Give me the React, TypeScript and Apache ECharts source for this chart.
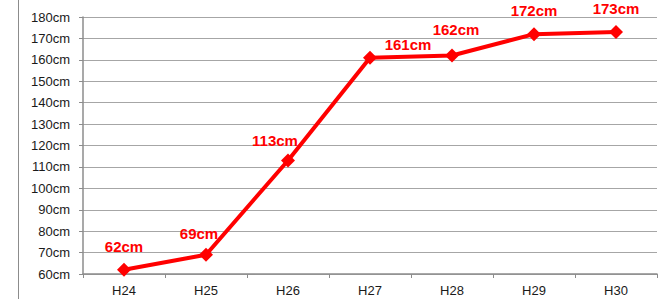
import React, { useEffect, useRef } from "react";
import * as echarts from "echarts";

const categories = ["H24", "H25", "H26", "H27", "H28", "H29", "H30"];
const heights = [62, 69, 113, 161, 162, 172, 173];
const yMin = 60;
const yMax = 180;
const yStep = 10;

export default function App() {
  const ref = useRef<HTMLDivElement>(null);
  useEffect(() => {
    if (!ref.current) return;
    const chart = echarts.init(ref.current, null, { renderer: "svg" });
    const labelOffsets: Record<number, number[]> = {
      1: [-7, 2],
      2: [-13, 4],
      3: [38, 10],
      4: [4, -3],
    };
    const data = heights.map((v, i) => ({
      value: v,
      label: labelOffsets[i] ? { offset: labelOffsets[i] } : undefined,
    }));
    chart.setOption({
      animation: false,
      grid: { left: 83, right: 9, top: 17, bottom: 25 },
      graphic: [
        {
          type: "line",
          shape: { x1: 18.5, y1: 0, x2: 18.5, y2: 299 },
          style: { stroke: "#8c8c8c", lineWidth: 1 },
        },
      ],
      xAxis: {
        type: "category",
        data: categories,
        boundaryGap: true,
        axisLine: { lineStyle: { color: "#8c8c8c", width: 1.5 } },
        axisTick: { show: true, length: 4, lineStyle: { color: "#8c8c8c" } },
        axisLabel: {
          color: "#1a1a1a",
          fontSize: 13,
          fontFamily: "Liberation Sans",
          margin: 10,
        },
      },
      yAxis: {
        type: "value",
        min: yMin,
        max: yMax,
        interval: yStep,
        axisLine: { show: true, lineStyle: { color: "#8c8c8c", width: 1.5 } },
        axisTick: { show: true, length: 4, lineStyle: { color: "#8c8c8c" } },
        splitLine: { lineStyle: { color: "#a6a6a6", width: 1.2 } },
        axisLabel: {
          color: "#1a1a1a",
          fontSize: 13,
          fontFamily: "Liberation Sans",
          margin: 13,
          formatter: (v: number) => `${v}cm`,
        },
      },
      series: [
        {
          type: "line",
          data,
          symbol: "diamond",
          symbolSize: 14,
          lineStyle: { color: "#ff0000", width: 4 },
          itemStyle: { color: "#ff0000" },
          label: {
            show: true,
            position: "top",
            distance: 9,
            color: "#ff0000",
            fontWeight: "bold",
            fontSize: 15,
            fontFamily: "Liberation Sans",
            formatter: (p: any) => `${p.value}cm`,
          },
        },
      ],
    });
    return () => chart.dispose();
  }, []);
  return <div ref={ref} style={{ width: 666, height: 299, position: "absolute", left: 0, top: 0 }} />;
}
